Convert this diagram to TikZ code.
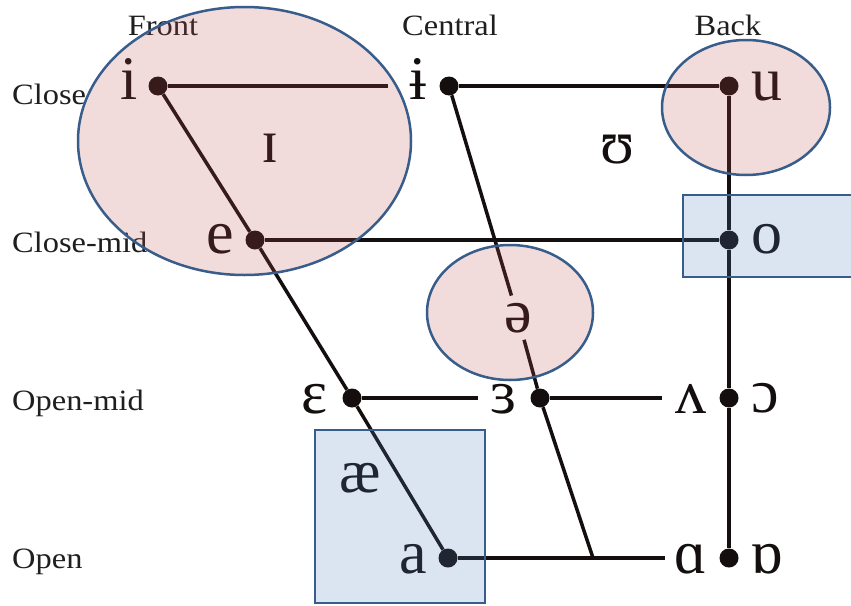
\documentclass[tikz,border=0pt]{standalone}
\usepackage{fontspec}
\setmainfont{Liberation Serif}
\newfontfamily\labfont[FakeStretch=1.1]{Liberation Serif}
\newfontfamily\ipafont{Liberation Serif}
\definecolor{ink}{RGB}{20,14,14}
\definecolor{rosefill}{RGB}{192,80,77}
\definecolor{bluefill}{RGB}{79,129,189}
\definecolor{edgeblue}{RGB}{56,93,138}
\begin{document}
\begin{tikzpicture}[x=1pt,y=-1pt,
  vdot/.style={circle, fill=ink, inner sep=0pt, minimum size=19pt},
  vow/.style={font=\ipafont\fontsize{62}{62}\selectfont, text=ink, inner sep=0pt, anchor=base},
  lab/.style={font=\labfont\fontsize{29.5}{29.5}\selectfont, text=black!88, inner sep=0pt, anchor=base},
  lnk/.style={draw=ink, line width=3.5pt},
  pinkshape/.style={fill=rosefill, fill opacity=0.2, draw=edgeblue, line width=2.5pt},
  blueshape/.style={fill=bluefill, fill opacity=0.2, draw=edgeblue, line width=2pt}]
\useasboundingbox (0,0) rectangle (851,605);
\clip (0,0) rectangle (851,605);
\fill[white] (0,0) rectangle (851,605);

% labels
\node[lab] (front) at (163,35) {Front};
\node[lab] (central) at (450,35) {Central};
\node[lab] (back) at (728,35) {Back};
\node[lab, anchor=base west] (close) at (12,104) {Close};
\node[lab, anchor=base west] (closemid) at (12,252) {Close-mid};
\node[lab, anchor=base west] (openmid) at (12,410) {Open-mid};
\node[lab, anchor=base west] (open) at (12,568) {Open};

% dots
\node[vdot] (di) at (158,86) {};
\node[vdot] (dic) at (449,86) {};
\node[vdot] (du) at (729,86) {};
\node[vdot] (de) at (255,240) {};
\node[vdot] (do) at (729,240) {};
\node[vdot] (deps) at (352,398) {};
\node[vdot] (drev) at (540,398) {};
\node[vdot] (dwedge) at (729,398) {};
\node[vdot] (da) at (448,558) {};
\node[vdot] (dalpha) at (729,558) {};

% vowels
\node[vow] (vi) at (129,99) {i};
\node[vow] (vic) at (418,99) {ɨ};
\node[vow] (vu) at (767,100) {u};
\node[vow] (vI) at (270,162) {ɪ};
\node[vow] (vU) at (618,163) {ʊ};
\node[vow] (ve) at (220,253) {e};
\node[vow] (vo) at (767,253) {o};
\node[vow, inner sep=7pt] (schwa) at (518,332) {ə};
\node[vow] (veps) at (315,413) {ɛ};
\node[vow] (vrev) at (504,413) {ɜ};
\node[vow] (vwedge) at (691,413) {ʌ};
\node[vow] (vopen) at (765,412) {ɔ};
\node[vow] (vae) at (360,492) {æ};
\node[vow] (va) at (413,573) {a};
\node[vow] (valpha) at (691,573) {ɑ};
\node[vow] (vturn) at (767,573) {ɒ};

% free ends
\coordinate (c1) at (388,86);
\coordinate (c2) at (478,398);
\coordinate (c3) at (662,398);
\coordinate (c4) at (665,558);
\coordinate (jn) at (593,558);

% connectors
\draw[lnk] (di) -- (c1);
\draw[lnk] (dic) -- (du);
\draw[lnk] (di) -- (de) -- (deps) -- (da);
\draw[lnk] (de) -- (do);
\draw[lnk] (du) -- (do) -- (dwedge) -- (dalpha);
\draw[lnk] (deps) -- (c2);
\draw[lnk] (drev) -- (c3);
\draw[lnk] (da) -- (c4);
\draw[lnk] (dic) -- (schwa);
\draw[lnk] (schwa) -- (drev) -- (jn);

% highlight shapes
\draw[pinkshape] (244.5,141) ellipse [x radius=166.5, y radius=134];
\draw[pinkshape] (746,107.5) ellipse [x radius=84, y radius=67.5];
\draw[pinkshape] (510,312.5) ellipse [x radius=83, y radius=67.5];
\draw[blueshape] (683,195) rectangle (860,277);
\draw[blueshape] (315,430) rectangle (485,603);
\end{tikzpicture}
\end{document}
